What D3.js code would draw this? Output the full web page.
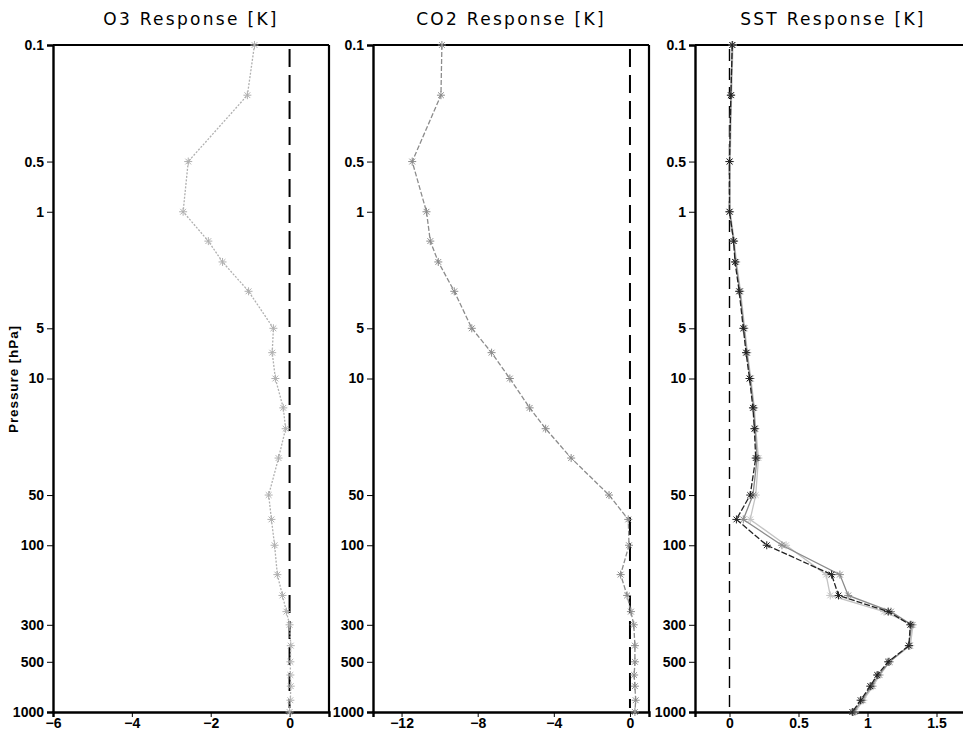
<!DOCTYPE html>
<html>
<head>
<meta charset="utf-8">
<script src="https://cdn.jsdelivr.net/npm/d3@7"></script>
<style>
body { margin: 0; background: #fff; }
</style>
</head>
<body>
<div id="chartDiv"></div>
<script>
// pressure levels [hPa] shared by all profiles
var levels = [0.1, 0.2, 0.5, 1, 1.5, 2, 3, 5, 7, 10, 15, 20, 30, 50, 70, 100, 150, 200, 250, 300, 400, 500, 600, 700, 850, 1000];

var o3 = [-0.89, -1.07, -2.57, -2.70, -2.06, -1.70, -1.04, -0.41, -0.44, -0.36, -0.16, -0.10, -0.28, -0.53, -0.46, -0.38, -0.31, -0.18, -0.08, 0.0, 0.03, 0.02, 0.02, 0.03, 0.02, 0.0];
var co2 = [-9.88, -9.93, -11.44, -10.69, -10.49, -10.07, -9.23, -8.31, -7.27, -6.31, -5.27, -4.43, -3.09, -1.10, -0.09, -0.05, -0.49, -0.15, 0.05, 0.20, 0.26, 0.26, 0.22, 0.26, 0.30, 0.26];
var sstA = [0.02, 0.01, 0.0, 0.0, 0.03, 0.04, 0.07, 0.10, 0.12, 0.145, 0.17, 0.18, 0.19, 0.15, 0.05, 0.27, 0.74, 0.79, 1.15, 1.31, 1.30, 1.15, 1.07, 1.02, 0.95, 0.89];
var sstB = [0.02, 0.01, 0.0, 0.0, 0.03, 0.045, 0.075, 0.105, 0.125, 0.15, 0.175, 0.185, 0.20, 0.17, 0.10, 0.38, 0.80, 0.86, 1.17, 1.32, 1.30, 1.16, 1.08, 1.03, 0.96, 0.90];
var sstC = [0.025, 0.015, 0.005, 0.005, 0.035, 0.05, 0.08, 0.11, 0.13, 0.155, 0.18, 0.19, 0.21, 0.19, 0.15, 0.41, 0.70, 0.73, 1.12, 1.33, 1.31, 1.16, 1.09, 1.04, 0.97, 0.91];

var pTicks = [0.1, 0.5, 1, 5, 10, 50, 100, 300, 500, 1000];
var o3Ticks = [-6, -4, -2, 0];
var co2Ticks = [-12, -8, -4, 0];
var sstTicks = [0, 0.5, 1, 1.5];

var titles = ["O3 Response [K]", "CO2 Response [K]", "SST Response [K]"];

var width = 963, height = 735;
var plotTop = 45, plotBottom = 712, panelW = 276;

var panels = [
    {title: titles[0], left: 53, domain: [-6, 1], ticks: o3Ticks,
     series: [{values: o3, color: "#b0b0b0", dash: "2,1.5"}]},
    {title: titles[1], left: 373, domain: [-13.5, 1], ticks: co2Ticks,
     series: [{values: co2, color: "#8c8c8c", dash: "5,2"}]},
    {title: titles[2], left: 695, domain: [-0.25, 1.75], ticks: sstTicks,
     series: [{values: sstC, color: "#c4c4c4", dash: null},
              {values: sstB, color: "#8a8a8a", dash: null},
              {values: sstA, color: "#222", dash: "6,2"}]}
];

var svg = d3.select("#chartDiv")
    .append("svg")
    .attr("width", width)
    .attr("height", height)
    .style("display", "block")
    .style("background", "#fff");

var y = d3.scaleLog().domain([0.1, 1000]).range([plotTop, plotBottom]);

// small asterisk marker
function star(s) {
    var d = s * 0.72;
    return "M" + (-s) + ",0h" + (2 * s) +
        "M0," + (-s) + "v" + (2 * s) +
        "M" + (-d) + "," + (-d) + "l" + (2 * d) + "," + (2 * d) +
        "M" + (-d) + "," + d + "l" + (2 * d) + "," + (-2 * d);
}

panels.forEach(function (p, i) {
    var x = d3.scaleLinear().domain(p.domain).range([p.left, p.left + panelW]);
    var g = svg.append("g").attr("class", "panel");

    // title
    g.append("text")
        .attr("x", p.left + panelW / 2)
        .attr("y", 25)
        .attr("text-anchor", "middle")
        .style("font-family", "DejaVu Sans, sans-serif")
        .style("font-size", "17px")
        .style("letter-spacing", "2.3px")
        .text(p.title);

    // frame (top, right)
    g.append("line")
        .attr("x1", p.left).attr("x2", p.left + panelW)
        .attr("y1", plotTop).attr("y2", plotTop)
        .attr("stroke", "#000").attr("stroke-width", 2.2);
    g.append("line")
        .attr("x1", p.left + panelW).attr("x2", p.left + panelW)
        .attr("y1", plotTop).attr("y2", plotBottom)
        .attr("stroke", "#000").attr("stroke-width", 2.2);

    // zero line
    g.append("line")
        .attr("x1", x(0)).attr("x2", x(0))
        .attr("y1", plotTop + 4).attr("y2", plotBottom - 4)
        .attr("stroke", "#000")
        .attr("stroke-width", i == 2 ? 1.4 : 2)
        .attr("stroke-dasharray", i == 2 ? "12,7" : "18,8");

    // axes
    var yAxis = g.append("g")
        .attr("transform", "translate(" + p.left + ",0)")
        .call(d3.axisLeft(y).tickValues(pTicks).tickSize(6).tickPadding(3)
            .tickFormat(function (d) { return String(d); }));
    var xAxis = g.append("g")
        .attr("transform", "translate(0," + plotBottom + ")")
        .call(d3.axisBottom(x).tickValues(p.ticks).tickSize(5).tickPadding(1)
            .tickFormat(function (d) { return d < 0 ? "\u2212" + Math.abs(d) : String(d); }));
    [yAxis, xAxis].forEach(function (a) {
        a.select(".domain").attr("stroke-width", 2.4);
        a.selectAll("text")
            .style("font-family", "Liberation Sans, Arial, sans-serif")
            .style("font-weight", "bold")
            .style("font-size", "14px")
            .attr("fill", "#000");
    });

    // profiles
    var line = d3.line()
        .x(function (d) { return x(d[0]); })
        .y(function (d) { return y(d[1]); });
    p.series.forEach(function (s) {
        var pts = s.values.map(function (v, k) { return [v, levels[k]]; });
        g.append("path")
            .datum(pts)
            .attr("d", line)
            .attr("fill", "none")
            .attr("stroke", s.color)
            .attr("stroke-width", 1.3)
            .attr("stroke-dasharray", s.dash);
        g.selectAll(null)
            .data(pts)
            .enter().append("path")
            .attr("transform", function (d) { return "translate(" + x(d[0]) + "," + y(d[1]) + ")"; })
            .attr("d", star(4))
            .attr("fill", "none")
            .attr("stroke", s.color)
            .attr("stroke-width", 1);
    });
});

// y axis title
svg.append("text")
    .attr("transform", "translate(18,379) rotate(-90)")
    .attr("text-anchor", "middle")
    .style("font-family", "Liberation Sans, Arial, sans-serif")
    .style("font-weight", "bold")
    .style("font-size", "13.5px")
    .style("letter-spacing", "0.9px")
    .text("Pressure [hPa]");
</script>
</body>
</html>
